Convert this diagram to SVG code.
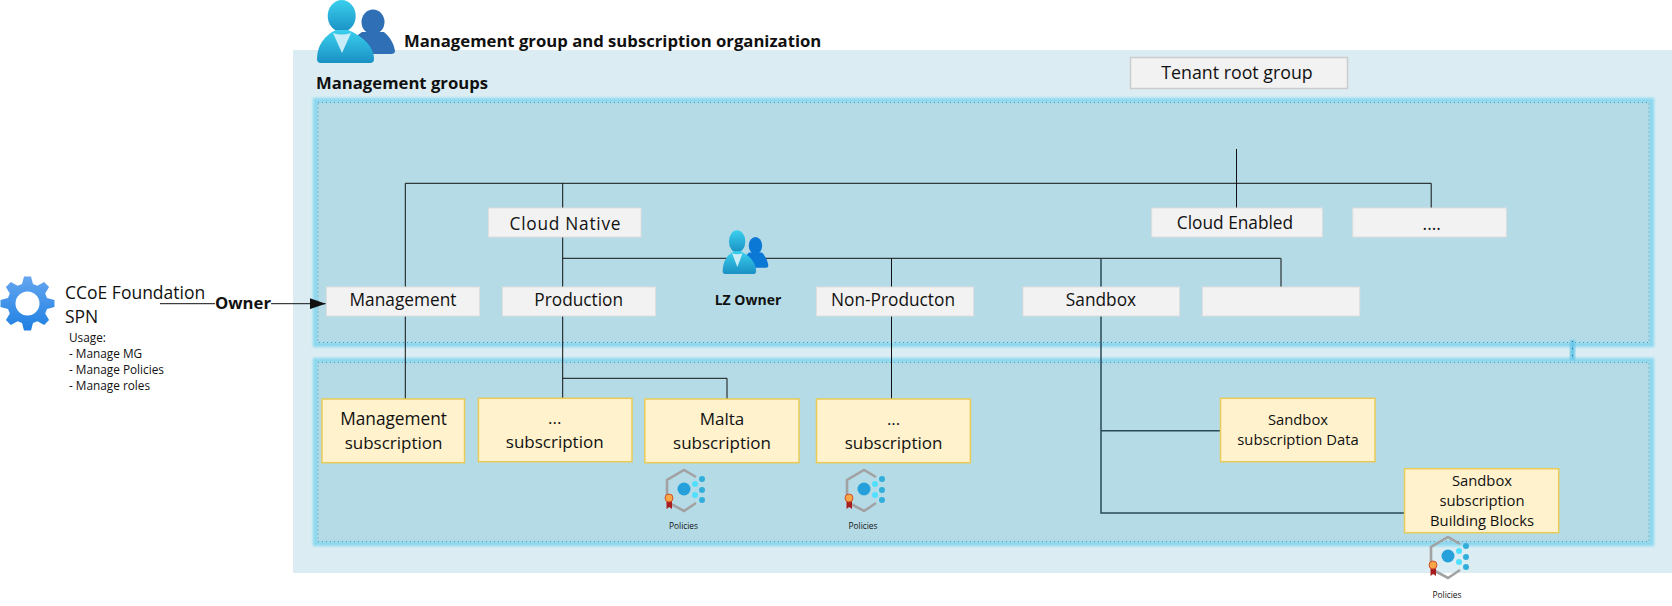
<svg xmlns="http://www.w3.org/2000/svg" width="1672" height="606" viewBox="0 0 1672 606">
<style>
text{font-family:"Open Sans","Noto Sans","Liberation Sans",sans-serif;fill:#111}
.b{font-weight:700;font-size:16.7px}
.n{font-size:17.3px;text-anchor:middle}
.s{font-size:17px;text-anchor:middle}
.m{font-size:14.8px;text-anchor:middle}
.u{font-size:11.8px}
.p{font-size:8.4px;text-anchor:middle}
.gray{fill:#f2f2f2;stroke:#dedede;stroke-width:1}
.yel{fill:#fff2cc;stroke:#e9cb58;stroke-width:1.5}
.fillc{fill:#b5dbe7}
.glow{fill:none;stroke:#80d6f0;stroke-width:4.5;opacity:.8;filter:url(#soft)}
.dot{fill:none;stroke:#4f9dbc;stroke-width:1;stroke-dasharray:1 3}
.c{fill:none;stroke:#111;stroke-width:1}
.c2{fill:none;stroke:#2a4a58;stroke-width:1.5}
</style>
<defs>
<filter id="soft" x="-2%" y="-5%" width="104%" height="110%"><feGaussianBlur stdDeviation="1.1"/></filter>
<linearGradient id="pg" x1="0" y1="0" x2="0" y2="1"><stop offset="0" stop-color="#3ad0ee"/><stop offset="1" stop-color="#1a90c4"/></linearGradient>
<linearGradient id="gg" x1="0" y1="0" x2="0" y2="1"><stop offset="0" stop-color="#64a6f0"/><stop offset="1" stop-color="#1f80e2"/></linearGradient>
<marker id="arr" markerUnits="userSpaceOnUse" markerWidth="16" markerHeight="11" refX="16" refY="5.5" orient="auto"><path d="M0 0L16 5.5L0 11Z" fill="#111"/></marker>
<g id="person">
<ellipse cx="373" cy="22" rx="11.5" ry="12.5"/>
<path d="M362 32C353 38 350 46 350 54L391 54Q395 54 395 51C394 44 390 37 384 32Z"/>
<ellipse cx="341.7" cy="16" rx="14" ry="16" fill="url(#pg)"/>
<path d="M317 59C317 45 325 35 336 30L348 30C360 35 374 45 374 59Q374 63 370 63L321 63Q317 63 317 59Z" fill="url(#pg)"/>
<path d="M333 33Q342 36 351 33L342 53Z" fill="#c8ecf8"/>
</g>
<g id="policy">
<path d="M46 12L34 5L17 15L17 31M21 39L34 46L46 38" fill="none" stroke="#a2a2a2" stroke-width="2.6"/>
<circle cx="34" cy="24" r="6.5" fill="#26a0da"/>
<circle cx="45" cy="19" r="3" fill="#50e0ff"/><circle cx="45" cy="30" r="3" fill="#50e0ff"/>
<circle cx="52" cy="14" r="3" fill="#32aedb"/><circle cx="52" cy="25" r="3" fill="#32aedb"/><circle cx="52" cy="35" r="3" fill="#32aedb"/>
<path d="M16.5 36L22 36L22 44L19.2 42L16.5 44Z" fill="#a81e1e"/>
<circle cx="19" cy="33" r="4" fill="#f7a648" stroke="#d4512a" stroke-width="1"/>
</g>
</defs>

<g id="org-background"><rect x="293" y="50" width="1379" height="523" fill="#dbedf3"/></g>
<g id="title-icon"><use href="#person" fill="#2e6fb5"/></g>
<text class="b" x="404" y="47">Management group and subscription organization</text>
<text class="b" x="316" y="89">Management groups</text>

<g id="mg-container"><rect class="fillc" x="315" y="100" width="1337" height="245"/><rect class="glow" x="315" y="100" width="1337" height="245"/><rect class="dot" x="318" y="102.5" width="1331" height="240"/></g>
<g id="sub-container"><rect class="fillc" x="315" y="360" width="1337" height="184"/><rect class="glow" x="315" y="360" width="1337" height="184"/><rect class="dot" x="318" y="362.5" width="1331" height="179"/></g>
<g id="container-link"><rect x="1570" y="340" width="5" height="20" fill="#6cc7e8" style="filter:url(#soft)"/><path d="M1572.5 341V358" stroke="#1c6f96" stroke-width="1" stroke-dasharray="1 6"/></g>

<g id="connectors">
<path class="c" d="M1236.5 149V208M405.3 183.3H1431.2M405.3 183.3V287M405.3 316V399M1431.2 183.3V208M562.7 183.3V208M562.7 237V287M562.7 316V398M562.7 258.3H1280.8M891.5 258.3V287M891.5 316V399M1281 258.3V287M562.7 378.3H727V399"/>
<path class="c2" d="M1101 258.3V287M1101 316V513H1405M1101 430.7H1220.5"/>
<path d="M160 303.7H325.7" fill="none" stroke="#111" stroke-width="1" marker-end="url(#arr)"/>
</g>

<g id="spn">
<path transform="translate(27.5 303.5)" fill="url(#gg)" fill-rule="evenodd" d="M-5.5-19.5L-3.5-27L3.5-27L5.5-19.5L9.9-17.68L16.62-21.57L21.57-16.62L17.68-9.9L19.5-5.5L27-3.5L27 3.5L19.5 5.5L17.68 9.9L21.57 16.62L16.62 21.57L9.9 17.68L5.5 19.5L3.5 27L-3.5 27L-5.5 19.5L-9.9 17.68L-16.62 21.57L-21.57 16.62L-17.68 9.9L-19.5 5.5L-27 3.5L-27-3.5L-19.5-5.5L-17.68-9.9L-21.57-16.62L-16.62-21.57L-9.9-17.68ZM12 0A12 12 0 1 0-12 0A12 12 0 1 0 12 0Z"/>
<text x="65" y="299" style="font-size:17.5px">CCoE Foundation</text>
<text x="65" y="323" style="font-size:17.5px">SPN</text>
<text class="u" x="69" y="342">Usage:</text>
<text class="u" x="69" y="358">- Manage MG</text>
<text class="u" x="69" y="374">- Manage Policies</text>
<text class="u" x="69" y="390">- Manage roles</text>
</g>
<g id="owner-label"><rect x="215" y="296" width="56" height="15" fill="#fff"/><text x="215" y="309" style="font-weight:700;font-size:16.7px">Owner</text></g>

<g id="tenant"><rect class="gray" x="1130.5" y="57.5" width="217" height="31" style="stroke:#ccc;stroke-width:1.5"/><text class="n" x="1237" y="78.5" style="font-size:17.8px">Tenant root group</text></g>
<g id="cloud-native"><rect class="gray" x="488.5" y="208" width="152.5" height="29"/><text class="n" x="565" y="230" textLength="111">Cloud Native</text></g>
<g id="cloud-enabled"><rect class="gray" x="1151.7" y="208" width="170.7" height="29"/><text class="n" x="1235" y="229">Cloud Enabled</text></g>
<g id="more"><rect class="gray" x="1352.8" y="208" width="153.6" height="29"/><text class="n" x="1431.7" y="230">....</text></g>
<g id="management"><rect class="gray" x="326.4" y="287" width="153.1" height="29"/><text class="n" x="403" y="306">Management</text></g>
<g id="production"><rect class="gray" x="502.4" y="287" width="153.1" height="29"/><text class="n" x="578.7" y="306">Production</text></g>
<g id="lz-owner"><use href="#person" fill="#0b78d6" transform="translate(722.7 231) scale(.585 .694) translate(-317 -1)"/><text x="714.7" y="305" style="font-weight:700;font-size:14px">LZ Owner</text></g>
<g id="non-production"><rect class="gray" x="816.5" y="287" width="157.1" height="29"/><text class="n" x="893" y="306">Non-Producton</text></g>
<g id="sandbox"><rect class="gray" x="1023" y="287" width="156.5" height="29"/><text class="n" x="1101" y="306">Sandbox</text></g>
<g id="empty"><rect class="gray" x="1202.4" y="287" width="157.3" height="29"/></g>

<g id="management-sub"><rect class="yel" x="322" y="399" width="142.5" height="63.7"/><text class="n" x="393.6" y="424.7">Management</text><text class="s" x="393.6" y="448.7">subscription</text></g>
<g id="dots-sub-1"><rect class="yel" x="478.4" y="398.3" width="153.6" height="63.4"/><text class="s" x="554.7" y="423.7">...</text><text class="s" x="554.7" y="447.7">subscription</text></g>
<g id="malta-sub"><rect class="yel" x="644.8" y="399" width="154.2" height="63.7"/><text class="s" x="722" y="424.7">Malta</text><text class="s" x="722" y="448.7">subscription</text></g>
<g id="dots-sub-2"><rect class="yel" x="816.5" y="399" width="153.9" height="63.7"/><text class="s" x="893.6" y="425">...</text><text class="s" x="893.6" y="448.7">subscription</text></g>
<g id="sandbox-data"><rect class="yel" x="1220.5" y="398.3" width="154.5" height="63.4"/><text class="m" x="1298" y="424.7">Sandbox</text><text class="m" x="1298" y="444.7">subscription Data</text></g>
<g id="sandbox-bb"><rect class="yel" x="1404.5" y="468.7" width="154.2" height="64"/><text class="m" x="1482" y="485.7">Sandbox</text><text class="m" x="1482" y="505.7">subscription</text><text class="m" x="1482" y="525.7">Building Blocks</text></g>

<g id="policy-1"><use href="#policy" x="650" y="465"/><text class="p" x="683.5" y="529">Policies</text></g>
<g id="policy-2"><use href="#policy" x="830" y="465"/><text class="p" x="863" y="529">Policies</text></g>
<g id="policy-3"><use href="#policy" x="1414" y="532"/><text class="p" x="1447" y="598">Policies</text></g>
</svg>
